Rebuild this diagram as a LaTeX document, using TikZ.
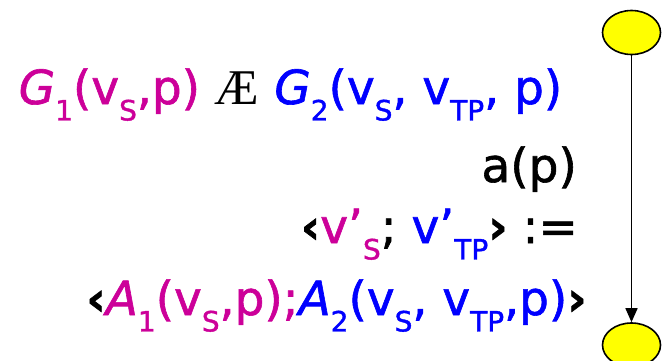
\documentclass[tikz,border=0pt]{standalone}
\usepackage{fontspec}
\setmainfont{DejaVu Sans}[FakeBold=1.3]
\newfontfamily\serifae{Liberation Serif}
\usetikzlibrary{arrows.meta,shapes.geometric}
\definecolor{mag}{HTML}{CC0099}
\definecolor{blu}{HTML}{0000FF}
\definecolor{yel}{HTML}{FFFF00}
\newcommand\sbx[1]{\raisebox{-0.35em}{\fontsize{28}{30}\selectfont #1}}
\newcommand\lt{\textbf{‹}}
\newcommand\gt{\textbf{›}}
\tikzset{
  txt/.style={inner sep=0pt, font=\fontsize{47}{52}\selectfont},
  state/.style={ellipse, draw=black, line width=1.6pt, fill=yel,
    minimum width=58pt, minimum height=44pt, inner sep=0pt},
  flow/.style={line width=1.5pt, -{Triangle[width=12pt,length=14pt]}}
}
\begin{document}
\begin{tikzpicture}[x=1pt,y=-1pt]
\useasboundingbox (0,0) rectangle (663,360);
\node[state] (s0) at (631.5,32.5) {};
\node[state] (s1) at (631.5,345) {};
\draw[flow] (s0) -- (s1);
\node[txt, anchor=base] (l1) at (290.5,104)
  {{\color{mag}\textit{G}\sbx{1}(v\sbx{S},p)} {\serifae\fontsize{50}{54}\selectfont Æ} {\color{blu}\textit{G}\sbx{2}(v\sbx{S}, v\sbx{TP}, p)}};
\node[txt, anchor=base east] (l2) at (577,182) {a(p)};
\node[txt, anchor=base east] (l3) at (578,243)
  {\lt{\color{mag}v'\sbx{S}}; {\color{blu}v'\sbx{TP}}\gt{} :=};
\node[txt, anchor=base] (l4) at (336.5,315)
  {\lt{\color{mag}\textit{A}\sbx{1}(v\sbx{S},p);}{\color{blu}\textit{A}\sbx{2}(v\sbx{S}, v\sbx{TP},p)}\gt};
\end{tikzpicture}
\end{document}
